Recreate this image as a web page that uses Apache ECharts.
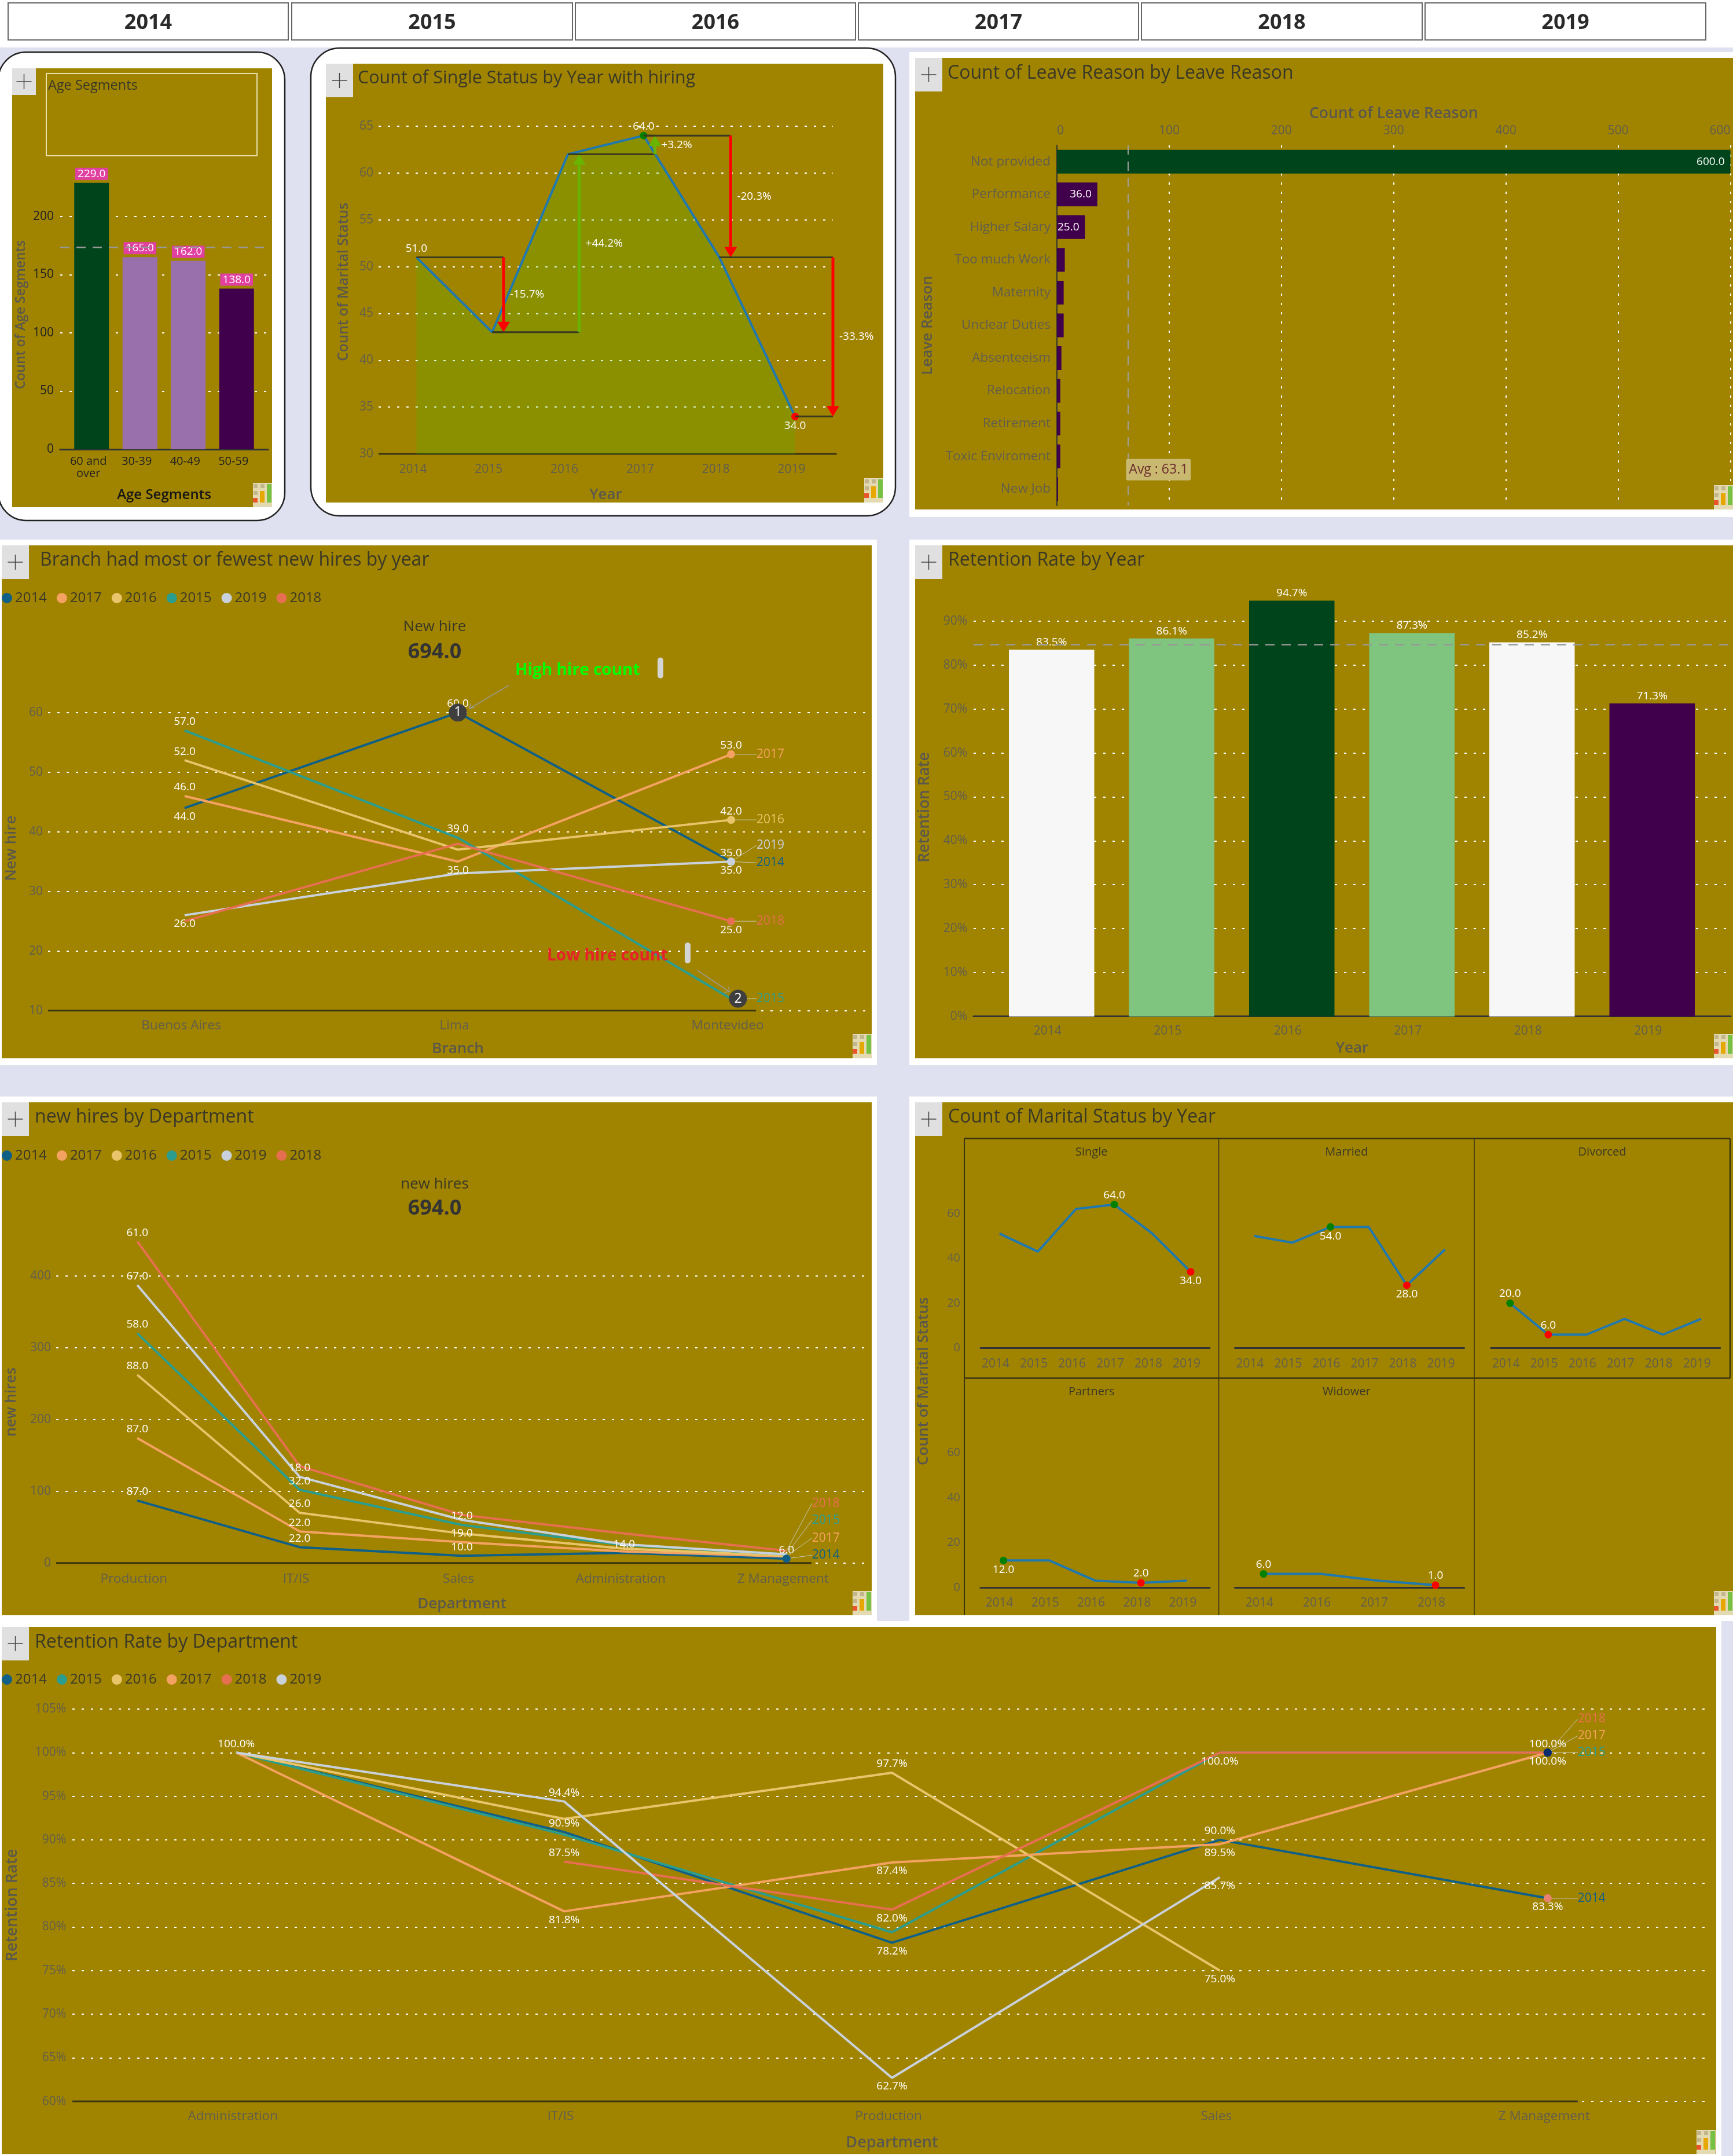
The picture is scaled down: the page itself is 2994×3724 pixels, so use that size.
<!DOCTYPE html>
<html><head><meta charset="utf-8">
<style>html,body{margin:0;padding:0;background:#DFE0F0}#c{width:2994px;height:3724px}</style>
<script src="https://cdn.jsdelivr.net/npm/echarts@6/dist/echarts.min.js"></script>
</head><body><div id="c"></div>
<script>
// ---------- data ----------
const sliceYears=['2014','2015','2016','2017','2018','2019'];
const years=['2014','2015','2016','2017','2018','2019'];
const ageCategories=['60 and\nover','30-39','40-49','50-59'];
const ageCounts=[229,165,162,138];
const singleCounts=[51,43,62,64,51,34];
const leaveReasons=['Not provided','Performance','Higher Salary','Too much Work','Maternity','Unclear Duties','Absenteeism','Relocation','Retirement','Toxic Enviroment','New Job'];
const leaveCounts=[600,36,25,7,6,6,4,3,3,3,1];
const branches=['Buenos Aires','Lima','Montevideo'];
const branch2014=[44,60,35];
const branch2017=[46,35,53];
const branch2016=[52,37,42];
const branch2015=[57,39,12];
const branch2019=[26,33,35];
const branch2018=[25,38,25];
const retentionByYear=[83.5,86.1,94.7,87.3,85.2,71.3];
const departmentsA=['Production','IT/IS','Sales','Administration','Z Management'];
const dept2014=[87,22,10,14,6];
const dept2017=[87,22,19,2,3];
const dept2016=[88,26,12,4,1];
const dept2015=[58,32,12,5,2];
const dept2019=[67,18,7,1,0];
const dept2018=[61,15,7,15,5];
const maritalSingle=[51,43,62,64,51,34];
const maritalMarried=[50,47,54,54,28,44];
const maritalDivorced=[20,6,6,13,6,13];
const maritalPartners=[12,12,3,2,3];
const maritalWidower=[6,6,3,1];
const partnerYears=['2014','2015','2016','2018','2019'];
const widowerYears=['2014','2016','2017','2018'];
const departmentsB=['Administration','IT/IS','Production','Sales','Z Management'];
const ret2014=[100,90.9,78.2,90.0,83.3];
const ret2015=[100,90.6,79.4,100,100];
const ret2016=[100,92.4,97.7,75.0,null];
const ret2017=[100,81.8,87.4,89.5,100];
const ret2018=[null,87.5,82.0,100,100];
const ret2019=[100,94.4,62.7,85.7,null];
const totalHires=694;

// ---------- style ----------
const F='"Open Sans"';
const GOLD='#A08400',LAV='#DFE0F0',TICK='#625E4C',NAME='#5A584C',TITLE='#3A3826';
const C={2014:'#0F5F87',2015:'#2A9D8F',2016:'#E9C46A',2017:'#F4A261',2018:'#E76F51',2019:'#C9D1DC'};
const DOT={color:'#fff',type:[4,12],width:2};
const grids=[],xA=[],yA=[],series=[],titles=[],gfx=[],legends=[];
const pct=v=>v.toFixed(1)+'%',one=v=>v.toFixed(1);
const nameStyle=(size,pad,color)=>Object.assign({fontFamily:F,fontSize:size,fontWeight:600,color:color||NAME},pad?{padding:pad}:{});

function rect(x,y,w,h,fill,extra){gfx.push(Object.assign({type:'rect',shape:{x,y,width:w,height:h},style:{fill},silent:true,z:-10},extra||{}));}
function txt(text,x,y,size,fill,o){gfx.push(Object.assign({type:'text',x,y,silent:true,z:6,style:{text,fill,font:((o&&o.weight)||'normal')+' '+size+'px '+F,align:(o&&o.align)||'left',verticalAlign:'middle'}},o&&o.rotation?{rotation:o.rotation}:{}));}
function plusBox(x,y,w,h){rect(x,y,w,h,'#E0E0E0',{z:6});const cx=x+w/2,cy=y+h/2;
 gfx.push({type:'line',z:7,silent:true,shape:{x1:cx-13,y1:cy,x2:cx+13,y2:cy},style:{stroke:'#444',lineWidth:1.5}});
 gfx.push({type:'line',z:7,silent:true,shape:{x1:cx,y1:cy-13,x2:cx,y2:cy+13},style:{stroke:'#444',lineWidth:1.5}});}
function icon(x,y){rect(x,y,33,42,'#E3DAB2',{z:6});
 [[1,2,7,7,'#C4B68C'],[13,2,7,7,'#C4B68C'],[1,14,7,7,'#C4B68C'],[12,14,8,20,'#E6A800'],[24,2,8,32,'#76C043'],[0,26,8,8,'#E8552B']].forEach(b=>rect(x+b[0],y+b[1],b[2],b[3],b[4],{z:7}));}
function title(text,x,yc,size,color,o){titles.push(Object.assign({text,left:x,top:yc-size*0.47,padding:0,textStyle:{fontFamily:F,fontSize:size,fontWeight:(o&&o.weight)||'normal',color:color||TITLE}},(o&&o.center)?{textAlign:'center'}:{}));}
function legend(names,left,top){legends.push({data:names,left,top,padding:0,icon:'circle',itemWidth:18,itemHeight:18,itemGap:17,selectedMode:false,textStyle:{fontFamily:F,fontSize:24,color:TITLE},itemStyle:{borderWidth:0}});}

function cart(g,x,y){const i=grids.length;
 grids.push({left:g[0],top:g[1],width:g[2],height:g[3],containLabel:false,outerBoundsMode:'none',show:false});
 xA.push(Object.assign({gridIndex:i,type:'category',nameLocation:'middle',nameMoveOverlap:false,axisTick:{show:false},splitLine:{show:false},
   axisLine:{show:false},nameTextStyle:nameStyle(26)},x));
 yA.push(Object.assign({gridIndex:i,type:'value',nameLocation:'middle',nameMoveOverlap:false,axisTick:{show:false},axisLine:{show:false},
   splitLine:{show:true,showMaxLine:false,lineStyle:DOT},nameTextStyle:nameStyle(26)},y));
 return i;}
const lab=(margin,shift,color,size)=>({show:true,interval:0,hideOverlap:false,margin,color:color||TICK,fontFamily:F,fontSize:size||21,padding:shift?[0,shift,0,0]:0});
const ylab=(margin,color,fmt)=>Object.assign({show:true,margin,color:color||TICK,fontFamily:F,fontSize:21,showMaxLabel:false,padding:[4,0,0,0]},fmt?{formatter:fmt}:{});
const AXL={show:true,lineStyle:{color:'#333',width:3}};

function custom(c,pts,draw,z){series.push({type:'custom',xAxisIndex:c,yAxisIndex:c,data:pts,clip:false,silent:true,z:z||5,
 renderItem:(p,api)=>({type:'group',children:draw(p.dataIndex,api)})});}
function tx(text,x,y,size,fill,o){return {type:'text',style:Object.assign({text,x,y,fill,font:((o&&o.weight)||'normal')+' '+size+'px '+F,align:(o&&o.align)||'left',verticalAlign:'middle'},(o&&o.style)||{})};}
const seg=(x1,y1,x2,y2,stroke,w)=>({type:'line',shape:{x1,y1,x2,y2},style:{stroke,lineWidth:w||1}});

function yearLine(c,name,values,pos,stack,fmt){
 series.push({name,type:'line',xAxisIndex:c,yAxisIndex:c,stack,symbol:'circle',symbolSize:1,showSymbol:true,showAllSymbol:true,smooth:false,
  lineStyle:{width:4,color:C[name]},itemStyle:{color:C[name]},
  label:{color:'#fff',fontFamily:F,fontSize:19,formatter:p=>(fmt||one)(p.value)},
  data:values.map((v,i)=>({value:v,label:{show:!!pos[i],position:pos[i]||'top'}}))});
}
// leader tags at the end of the lines
function tags(c,list){custom(c,list.map(t=>[t.i,t.v]),(k,api)=>{const t=list[k],p=api.coord([t.i,t.v]),out=[];
 const xe=p[0]+t.dx,ye=p[1]+(t.dy||0);
 out.push(seg(p[0],p[1],xe,ye,'#C8C8B8',1));
 if(t.dot)out.push({type:'circle',shape:{cx:p[0],cy:p[1],r:t.r||7},style:{fill:t.dot}});
 out.push(tx(t.name,xe,ye,21,t.color||C[t.name]));return out;});}
// baseline which stops short of the end of the grid
function baseLine(c,last,min,dx){custom(c,[[0,min]],(k,api)=>{const a=api.coord([0,min]),b=api.coord([last,min]),h=api.size([1,0])[0];
 return [seg(a[0]-h/2,a[1],b[0]+dx,b[1],'#3A3410',3)];},1);}
function pins(c,list){custom(c,list.map(t=>[t.i,t.v]),(k,api)=>{const t=list[k],p=api.coord([t.i,t.v]),cx=p[0]+t.dx,cy=p[1],out=[];
 out.push({type:'circle',shape:{cx,cy,r:15.5},style:{fill:'#3E3E3E'}});
 out.push(tx(t.n,cx,cy,23,'#fff',{align:'center'}));
 // note, pill and pointer, all placed from the pin
 const a=[cx+t.arrow[0],cy+t.arrow[1]],b=[cx+t.arrow[2],cy+t.arrow[3]];
 out.push(seg(a[0],a[1],b[0],b[1],'#9C9C9C',1.5));
 out.push(seg(b[0],b[1],b[0]+t.head[0],b[1]+t.head[1],'#9C9C9C',1.5));
 out.push(seg(b[0],b[1],b[0]+t.head[2],b[1]+t.head[3],'#9C9C9C',1.5));
 out.push(tx(t.note,cx+t.noteX,cy+t.noteY,28,t.noteColor,{weight:'bold'}));
 out.push({type:'rect',shape:{x:cx+t.pill[0],y:cy+t.pill[1],width:10,height:36,r:5},style:{fill:'#D4D4D4'}});
 return out;},6);}

// ---------- page furniture ----------
rect(0,0,2994,82,'#fff',{z:-12});
rect(0,82,2994,3642,LAV,{z:-12});
[[14,484],[504,485],[994,484],[1483,484],[1972,485],[2462,485]].forEach((b,i)=>{
 rect(b[0],5,b[1],64,'#fff',{style:{fill:'#fff',stroke:'#666',lineWidth:2}});
 txt(sliceYears[i],b[0]+b[1]/2,40,36,'#2A2A2A',{weight:'bold',align:'center'});});
// white cards and gold plot areas
rect(-3,90,495,809,'#fff',{shape:{x:-3,y:90,width:495,height:809,r:48},style:{fill:'#fff',stroke:'#222',lineWidth:2.5}});
rect(21,118,449,758,GOLD);
rect(537,83,1010,808,'#fff',{shape:{x:537,y:83,width:1010,height:808,r:50},style:{fill:'#fff',stroke:'#222',lineWidth:2.5}});
rect(563,110,963,758,GOLD);
rect(1571,90,1423,803,'#fff');rect(1581,100,1413,780,GOLD);
rect(0,932,1515,908,'#fff');rect(3,942,1503,886,GOLD);
rect(1571,932,1423,908,'#fff');rect(1581,942,1413,886,GOLD);
rect(0,1894,1515,906,'#fff');rect(3,1904,1503,886,GOLD);
rect(1571,1894,1423,906,'#fff');rect(1581,1904,1413,886,GOLD);
rect(0,2800,2974,924,'#fff');rect(3,2810,2962,911,GOLD);
plusBox(21,118,41,46);plusBox(563,110,47,58);plusBox(1581,100,47,58);plusBox(3,942,47,58);plusBox(1581,942,47,58);plusBox(3,1904,47,58);plusBox(1581,1904,47,58);plusBox(3,2810,47,58);
[[437,834],[1493,826],[2961,838],[1473,1786],[2961,1786],[1473,2748],[2961,2748],[2931,3679]].forEach(p=>icon(p[0],p[1]));

// ---------- panel 1: age segments ----------
rect(80,127,364,142,'none',{z:5,style:{fill:'none',stroke:'#E8E0B0',lineWidth:2}});
title('Age Segments',83,147,23.5);
const ageAvg=ageCounts.reduce((a,b)=>a+b,0)/ageCounts.length;
let c=cart([104,273.5,359,502.5],
 {data:['a','b'],boundaryGap:false,axisLine:AXL,axisLabel:{show:false},name:'Age Segments',nameGap:67,nameTextStyle:nameStyle(24,null,'#151515')},
 {min:0,max:250,interval:50,axisLabel:ylab(11,'#222'),name:'Count of Age Segments',nameGap:56,nameTextStyle:nameStyle(23,[0,38,0,0])});
let d=cart([116.5,273.5,334,502.5],{data:ageCategories,axisLabel:Object.assign(lab(11,11,'#222',20),{lineHeight:21})},
 {min:0,max:250,interval:50,axisLabel:{show:false},splitLine:{show:false}});
series.push({type:'bar',xAxisIndex:d,yAxisIndex:d,barWidth:60,z:2,data:ageCounts.map((v,i)=>({value:v,itemStyle:{color:['#00441B','#9970AB','#9970AB','#40004B'][i]}})),
 label:{show:true,position:'top',distance:5,color:'#fff',fontFamily:F,fontSize:19,backgroundColor:'#E040A0',padding:[1,4],formatter:p=>one(p.value)}});
series.push({type:'line',xAxisIndex:c,yAxisIndex:c,z:2,symbol:'none',data:[ageAvg,ageAvg],lineStyle:{color:'#989898',width:2.5,type:[16,12]}});

// ---------- panel 2: single status ----------
title('Count of Single Status by Year with hiring',618,134,30.5);
c=cart([654,218,785,566],
 {data:years,axisLabel:lab(17,12),name:'Year',nameGap:58},
 {min:30,max:65,interval:5,axisLabel:Object.assign(ylab(9),{showMaxLabel:true}),splitLine:{show:true,lineStyle:DOT},name:'Count of Marital Status',nameGap:47,nameTextStyle:nameStyle(24.5,[0,0,0,28])});
const hi=Math.max(...singleCounts),lo=Math.min(...singleCounts);
series.push({type:'line',xAxisIndex:c,yAxisIndex:c,z:3,symbol:'circle',symbolSize:1,showAllSymbol:true,lineStyle:{width:4,color:'#1F78B0'},itemStyle:{color:'#1F78B0'},
 areaStyle:{color:'#32C500',opacity:0.2,origin:'start'},
 label:{color:'#fff',fontFamily:F,fontSize:19,formatter:p=>one(p.value)},
 data:singleCounts.map((v,i)=>{const o={value:v,label:{show:false}};
  if(i===0)o.label={show:true,position:'top'};
  if(v===hi)Object.assign(o,{symbolSize:13,itemStyle:{color:'#008000'},label:{show:true,position:'top',distance:0}});
  if(v===lo)Object.assign(o,{symbolSize:13,itemStyle:{color:'#FF0000'},label:{show:true,position:'bottom',distance:0}});
  return o;})});
const arrowOffsets=[0.15,0.15,0.15,0.15,0.5];
baseLine(c,5,30,72);
custom(c,singleCounts.slice(0,-1).map((v,i)=>[i,v]),(k,api)=>{
 const a=singleCounts[k],b=singleCounts[k+1],h=api.size([1,0])[0];
 const p0=api.coord([k,a]),p1=api.coord([k+1,b]),x=p1[0]+arrowOffsets[k]*h,col=b<a?'#FF0000':'#68B400',dir=b<a?1:-1;
 const v=(b-a)/a*100;
 return [seg(p0[0],p0[1],x,p0[1],'#3A3A20',3),seg(p1[0],p1[1],x,p1[1],'#3A3A20',3),
  seg(x,p0[1],x,p1[1]-dir*12,col,5),
  {type:'polygon',shape:{points:[[x-11,p1[1]-dir*18],[x+11,p1[1]-dir*18],[x,p1[1]]]},style:{fill:col}},
  tx((v>0?'+':'')+v.toFixed(1)+'%',x+11,(p0[1]+p1[1])/2,19,'#fff')];
},6);

// ---------- panel 3: leave reason ----------
title('Count of Leave Reason by Leave Reason',1637,126,32);
const leaveAvg=leaveCounts.reduce((a,b)=>a+b,0)/leaveCounts.length;
c=cart([1826,251,1163.5,622],
 {type:'value',min:0,max:600,interval:100,position:'top',axisLine:{show:false},
  axisLabel:{show:true,margin:14,color:TICK,fontFamily:F,fontSize:21,alignMinLabel:'left',alignMaxLabel:'right'},
  splitLine:{show:true,lineStyle:DOT},name:'Count of Leave Reason',nameGap:41,nameTextStyle:nameStyle(26.5)},
 {type:'category',inverse:true,data:leaveReasons,splitLine:{show:false},axisLine:{show:true,lineStyle:{color:'#333',width:2}},
  axisLabel:{show:true,interval:0,margin:11,color:TICK,fontFamily:F,fontSize:22.5},name:'Leave Reason',nameGap:210});
series.push({type:'bar',xAxisIndex:c,yAxisIndex:c,barWidth:41,z:2,
 data:leaveCounts.map((v,i)=>({value:v,itemStyle:{color:i===0?'#00441B':'#40004B'},label:{show:i<3,position:i===2?'insideLeft':'insideRight',distance:i===2?1:10}})),
 label:{color:'#fff',fontFamily:F,fontSize:19,formatter:p=>one(p.value)},
 markLine:{silent:true,symbol:'none',label:{show:false},lineStyle:{color:'#A0A0A0',type:[16,12],width:2},data:[{xAxis:leaveAvg}]}});
custom(c,[[leaveAvg,10]],(k,api)=>{const p=api.coord([leaveAvg,10]);
 return [{type:'rect',shape:{x:p[0]-3,y:p[1]-52,width:112,height:37,r:3},style:{fill:'#C8B870'}},
  tx('Avg : '+one(leaveAvg),p[0]+53,p[1]-33,23,'#6B2D2D',{align:'center'})];},6);

// ---------- panel 4: branch ----------
title('Branch had most or fewest new hires by year',69,967,32);
legend(['2014','2017','2016','2015','2019','2018'],3,1021);
title('New hire',751,1082,26,TITLE,{center:true});
title(one(totalHires),751,1126,36,'#333',{center:true,weight:'bold'});
c=cart([83,1230.8,1416,514.8],
 {data:branches,axisLabel:lab(14,12,TICK,22.5),name:'Branch',nameGap:53},
 {min:10,max:60,interval:10,axisLabel:Object.assign(ylab(9),{showMaxLabel:true}),splitLine:{show:true,lineStyle:DOT},name:'New hire',nameGap:50,nameTextStyle:nameStyle(26,[0,0,0,46])});
baseLine(c,2,10,43);
yearLine(c,'2014',branch2014,['bottom','top','bottom']);
yearLine(c,'2017',branch2017,['top','bottom','top']);
yearLine(c,'2016',branch2016,['top',null,'top']);
yearLine(c,'2015',branch2015,['top','top',null]);
yearLine(c,'2019',branch2019,['bottom',null,'top']);
yearLine(c,'2018',branch2018,[null,null,'bottom']);
tags(c,[{i:2,v:53,name:'2017',dx:44,dot:C[2017]},{i:2,v:42,name:'2016',dx:44,dot:C[2016]},{i:2,v:35,name:'2019',dx:44,dy:-28,dot:C[2019]},
 {i:2,v:35,name:'2014',dx:44,dy:2,dot:C[2019]},{i:2,v:25,name:'2018',dx:44,dot:C[2018]},{i:2,v:12,name:'2015',dx:44}]);
pins(c,[{i:1,v:Math.max(...branch2014),n:'1',dx:0,arrow:[88,-47,20,-7],head:[9,-2,2,-9],note:'High hire count',noteX:99,noteY:-73,noteColor:'#00FF00',pill:[345,-95]},
 {i:2,v:Math.min(...branch2015),n:'2',dx:12,arrow:[-70,-49,-15,-12],head:[-9,1,-1,-9],note:'Low hire count',noteX:-330,noteY:-74,noteColor:'#E8202A',pill:[-92,-97]}]);

// ---------- panel 5: retention by year ----------
title('Retention Rate by Year',1638,967,32);
const retAvg=retentionByYear.reduce((a,b)=>a+b,0)/retentionByYear.length;
c=cart([1682,997.2,1308,758.5],
 {data:['a','b'],boundaryGap:false,axisLine:AXL,axisLabel:{show:false},name:'Year',nameGap:42},
 {min:0,max:100,interval:10,axisLabel:ylab(11,TICK,'{value}%'),name:'Retention Rate',nameGap:71,nameTextStyle:nameStyle(26.5,[0,36,0,0])});
d=cart([1713,997.2,1245,758.5],{data:years,axisLabel:lab(15,14)},{min:0,max:100,interval:10,axisLabel:{show:false},splitLine:{show:false}});
const retColors=['#F7F7F7','#7FC47F','#00441B','#7FC47F','#F7F7F7','#40004B'];
series.push({type:'bar',xAxisIndex:d,yAxisIndex:d,barWidth:147.5,z:2,data:retentionByYear.map((v,i)=>({value:v,itemStyle:{color:retColors[i]}})),
 label:{show:true,position:'top',distance:3,color:'#fff',fontFamily:F,fontSize:19,formatter:p=>pct(p.value)}});
series.push({type:'line',xAxisIndex:c,yAxisIndex:c,z:2,symbol:'none',data:[retAvg,retAvg],lineStyle:{color:'#989898',width:2.5,type:[16,12]}});

// ---------- panel 6: hires by department (stacked) ----------
title('new hires by Department',60,1929,32);
legend(['2014','2017','2016','2015','2019','2018'],3,1984);
title('new hires',751,2045,26,TITLE,{center:true});
title(one(totalHires),751,2087,36,'#333',{center:true,weight:'bold'});
c=cart([97,2079.7,1402,620],
 {data:departmentsA,axisLabel:lab(16,12,TICK,22.5),name:'Department',nameGap:58},
 {min:0,max:500,interval:100,axisLabel:ylab(9),name:'new hires',nameGap:64,nameTextStyle:nameStyle(25.5,[0,64,0,0])});
baseLine(c,4,0,43);
yearLine(c,'2014',dept2014,['top','top','top','top','top'],'s');
yearLine(c,'2017',dept2017,['top','top','top',null,null],'s');
yearLine(c,'2016',dept2016,['top','top',null,null,null],'s');
yearLine(c,'2015',dept2015,['top','top','top',null,null],'s');
yearLine(c,'2019',dept2019,['top','top',null,null,null],'s');
yearLine(c,'2018',dept2018,['top',null,null,null,null],'s');
const zSum=(...a)=>a.reduce((s,x)=>s+x[4],0);
tags(c,[{i:4,v:zSum(dept2014,dept2017,dept2016,dept2015,dept2019,dept2018),name:'2018',dx:44,dy:-82},
 {i:4,v:zSum(dept2014,dept2017,dept2016,dept2015),name:'2015',dx:44,dy:-59},
 {i:4,v:zSum(dept2014,dept2017),name:'2017',dx:44,dy:-32},
 {i:4,v:zSum(dept2014),name:'2014',dx:44,dy:-6,dot:C[2014]}]);

// ---------- panel 7: marital small multiples ----------
title('Count of Marital Status by Year',1638,1929,32);
txt('Count of Marital Status',1595.6,2385.7,26,NAME,{weight:'600',align:'center',rotation:Math.PI/2});
const facetName=['Single','Married','Divorced','Partners','Widower'];
const facetVals=[maritalSingle,maritalMarried,maritalDivorced,maritalPartners,maritalWidower];
const facetCats=[years,years,years,partnerYears,widowerYears];
const facetPos=[['top','bottom'],['bottom','bottom'],['top','top'],['bottom','top'],['top','top']];
const colX=[1694,2133.5,2575.8],rowZero=[2328.5,2741.8],cellX=[1885.8,2326.3,2768],cellTop=[1990,2404];
facetName.forEach((n,k)=>{const col=k%3,row=k<3?0:1,vals=facetVals[k];
 title(n,cellX[col],cellTop[row],20,TITLE,{center:true});
 const m=cart([colX[col],rowZero[row]-310,396,310],
  {data:facetCats[k],axisLine:AXL,axisLabel:lab(17,14)},
  {min:0,max:80,interval:20,splitLine:{show:false},axisLabel:col===0?{show:true,margin:35,color:TICK,fontFamily:F,fontSize:20,showMaxLabel:false,padding:[4,0,0,0]}:{show:false}});
 const mx=Math.max(...vals),mn=Math.min(...vals),ix=vals.indexOf(mx),in_=vals.indexOf(mn);
 series.push({type:'line',xAxisIndex:m,yAxisIndex:m,symbol:'circle',symbolSize:1,showAllSymbol:true,lineStyle:{width:4,color:'#1F78B0'},itemStyle:{color:'#1F78B0'},
  label:{color:'#fff',fontFamily:F,fontSize:19,formatter:p=>one(p.value)},
  data:vals.map((v,i)=>{const o={value:v,label:{show:false}};
   if(i===ix)Object.assign(o,{symbolSize:13,itemStyle:{color:'#008000'},label:{show:true,position:facetPos[k][0],distance:0}});
   if(i===in_)Object.assign(o,{symbolSize:13,itemStyle:{color:'#FF0000'},label:{show:true,position:facetPos[k][1],distance:0}});
   return o;})});
});
[[1666,1966.6,2989,1966.6,2.5],[1666,2380.6,2989,2380.6,2.5],[1666,1966.6,1666,2790,2],[2105.6,1966.6,2105.6,2790,1.5],[2547,1966.6,2547,2790,1.5],[2989,1966.6,2989,2380.6,2.5]].forEach(l=>
 gfx.push({type:'line',silent:true,z:1,shape:{x1:l[0],y1:l[1],x2:l[2],y2:l[3]},style:{stroke:'#3A3410',lineWidth:l[4]}}));

// ---------- panel 8: retention by department ----------
title('Retention Rate by Department',60,2836,32);
legend(['2014','2015','2016','2017','2018','2019'],3,2889);
c=cart([125,2952,2832,677.7],
 {data:departmentsB,axisLabel:lab(14,12,TICK,22.5),name:'Department',nameGap:58,nameTextStyle:nameStyle(27)},
 {min:60,max:105,interval:5,axisLabel:Object.assign(ylab(11,TICK,'{value}%'),{showMaxLabel:true}),splitLine:{show:true,lineStyle:DOT},name:'Retention Rate',nameGap:90,nameTextStyle:nameStyle(27)});
baseLine(c,4,60,52);
yearLine(c,'2014',ret2014,[null,'top','bottom','top','bottom'],undefined,pct);
yearLine(c,'2015',ret2015,[null,null,null,null,'bottom'],undefined,pct);
yearLine(c,'2016',ret2016,[null,null,'top','bottom',null],undefined,pct);
yearLine(c,'2017',ret2017,[null,'bottom','bottom','bottom','top'],undefined,pct);
yearLine(c,'2018',ret2018,[null,'top','bottom','bottom',null],undefined,pct);
yearLine(c,'2019',ret2019,['top','top','bottom','bottom',null],undefined,pct);
tags(c,[{i:4,v:ret2018[4],name:'2018',dx:52,dy:-58,dot:'#0B2B6B'},{i:4,v:ret2017[4],name:'2017',dx:52,dy:-29,dot:'#0B2B6B'},
 {i:4,v:ret2015[4],name:'2015',dx:52,dot:'#0B2B6B'},{i:4,v:ret2014[4],name:'2014',dx:52,dot:'#E98070'}]);

const chart=echarts.init(document.getElementById('c'),null,{width:2994,height:3724,renderer:'canvas'});
chart.setOption({animation:false,backgroundColor:'transparent',textStyle:{fontFamily:F},tooltip:{show:false},
 title:titles,legend:legends,grid:grids,xAxis:xA,yAxis:yA,series,graphic:{elements:gfx}});
</script></body></html>
